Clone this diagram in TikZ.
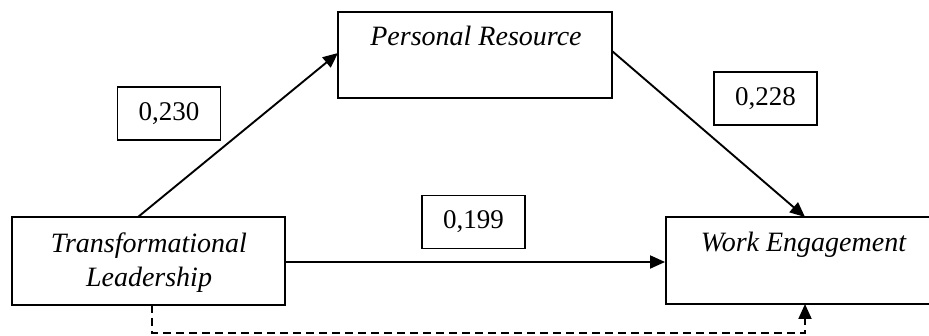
\documentclass[tikz,border=0pt]{standalone}
\usepackage{fontspec}
\setmainfont{Liberation Serif}
\usetikzlibrary{arrows.meta}
\begin{document}
\begin{tikzpicture}[x=1pt,y=-1pt,
  box/.style={draw,line width=1.9pt,rectangle,inner sep=0pt},
  varname/.style={font=\fontsize{28}{34}\selectfont\itshape,anchor=base,inner sep=0pt},
  coef/.style={box,font=\fontsize{27}{30}\selectfont,minimum width=103pt,minimum height=53pt},
  path/.style={line width=1.9pt,-{Triangle[length=15pt,width=13pt]}},
  side/.style={line width=1.9pt,dash pattern=on 8pt off 5pt,-{Triangle[length=15pt,width=13pt]}}]
\clip (0,0) rectangle (929,336);

% variable boxes
\node[box,minimum width=273pt,minimum height=88pt] (tl) at (148.5,261) {};
\node[box,minimum width=274pt,minimum height=86pt] (pr) at (475,55) {};
\node[box,minimum width=275pt,minimum height=87pt] (we) at (803.5,260.5) {};

% variable names
\node[varname] (tltop) at (149,253) {Transformational};
\node[varname] (tlbot) at (149,287) {Leadership};
\node[varname] (prname) at (476,45.5) {Personal Resource};
\node[varname] (wename) at (803.5,252) {Work Engagement};

% path coefficients
\node[coef] (c1) at (169,113.5) {0,230};
\node[coef] (c2) at (765.5,98.5) {0,228};
\node[coef] (c3) at (473.5,222) {0,199};

% paths
\coordinate (a1) at (138,217);
\coordinate (a2) at (338,53);
\draw[path] (a1) -- (a2);
\coordinate (b1) at (612,51);
\coordinate (b2) at (805,217);
\draw[path] (b1) -- (b2);
\draw[path] (tl.east |- 0,262) -- (we.west |- 0,262);
\coordinate (d1) at (152,305);
\coordinate (d2) at (805,304);
\draw[side] (d1) -- (152,333) -- (805,333) -- (d2);
\end{tikzpicture}
\end{document}
